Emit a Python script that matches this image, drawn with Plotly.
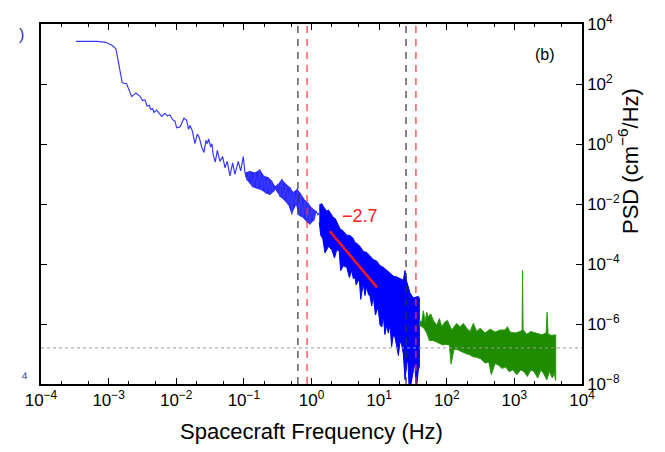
import numpy as np
import plotly.graph_objects as go

# ---- data (log10 of frequency in Hz, log10 of PSD) ----
blue_line_log_f = [-3.484, -3.173, -3.04, -2.951, -2.892, -2.862, -2.833, -2.799, -2.734, -2.660,
                   -2.596, -2.537, -2.497, -2.463, -2.429, -2.399, -2.379, -2.349, -2.330, -2.290,
                   -2.251, -2.216, -2.167, -2.133, -2.093, -2.053, -2.019, -1.994, -1.945, -1.886,
                   -1.846, -1.817, -1.797, -1.763, -1.723, -1.689, -1.660, -1.624, -1.590, -1.561,
                   -1.541, -1.521, -1.491, -1.472, -1.453, -1.423, -1.393, -1.354, -1.314, -1.280,
                   -1.246, -1.206, -1.166, -1.132, -1.083, -1.047, -1.009, -0.984, -0.950, -0.910,
                   -0.870, -0.836, -0.802, -0.762, -0.737, -0.703, -0.673, -0.639, -0.614, -0.589,
                   -0.565, -0.525, -0.491, -0.466, -0.441, -0.407, -0.377, -0.343, -0.318, -0.293,
                   -0.269, -0.229, -0.210, -0.180, -0.160, -0.130, -0.096, -0.071, -0.047, -0.022,
                   0.007, 0.037, 0.067, 0.096, 0.115]
blue_line_log_psd = [3.42, 3.42, 3.39, 3.29, 3.17, 2.84, 2.46, 2.04, 2.01, 1.58,
                     1.70, 1.59, 1.45, 1.47, 1.26, 1.29, 1.15, 1.18, 1.05, 1.13,
                     1.02, 0.92, 1.02, 0.94, 0.97, 0.81, 0.76, 0.54, 0.57, 0.86,
                     0.79, 0.49, 0.62, 0.44, 0.01, 0.33, 0.22, -0.10, -0.28, 0.12,
                     0.01, 0.17, -0.10, 0.01, -0.37, -0.60, -0.21, -0.58, -0.42, -0.79,
                     -0.58, -1.06, -0.63, -1.01, -0.58, -0.90, -0.42, -0.95, -1.22, -0.90,
                     -1.44, -0.95, -1.49, -0.85, -1.54, -1.06, -1.65, -1.11, -1.70, -1.22,
                     -1.60, -1.43, -1.33, -1.76, -1.17, -1.87, -1.33, -2.03, -1.44, -2.35,
                     -1.60, -2.03, -1.49, -2.40, -1.65, -2.45, -1.87, -2.61, -1.97, -2.68,
                     -2.13, -2.55, -2.23, -2.36, -2.30]

# dense part of the blue spectrum below ~1 Hz: upper / lower envelope
blue_mid_upper_log_f = [-0.984, -0.910, -0.836, -0.762, -0.703, -0.639, -0.589, -0.540, -0.491,
                        -0.441, -0.377, -0.318, -0.269, -0.210, -0.160, -0.096, -0.047, 0.007, 0.067]
blue_mid_upper_log_psd = [-0.95, -0.90, -0.95, -0.85, -1.06, -1.11, -1.22, -1.40, -1.33,
                          -1.17, -1.33, -1.44, -1.60, -1.49, -1.65, -1.87, -1.97, -2.13, -2.23]
blue_mid_lower_log_f = [0.067, 0.037, -0.022, -0.071, -0.130, -0.180, -0.229, -0.293, -0.343,
                        -0.407, -0.466, -0.540, -0.565, -0.614, -0.673, -0.737, -0.802, -0.870,
                        -0.950, -0.984]
blue_mid_lower_log_psd = [-2.23, -2.55, -2.68, -2.61, -2.45, -2.40, -2.03, -2.35, -2.03,
                          -1.87, -1.76, -1.50, -1.60, -1.70, -1.65, -1.54, -1.49, -1.44,
                          -1.22, -1.05]

blue_band_upper_log_f = [0.115, 0.151, 0.175, 0.200, 0.225, 0.250, 0.274, 0.300, 0.322, 0.350,
                         0.373, 0.400, 0.422, 0.470, 0.521, 0.570, 0.618, 0.640, 0.669, 0.720,
                         0.766, 0.820, 0.865, 0.910, 0.964, 1.010, 1.062, 1.110, 1.161, 1.210,
                         1.260, 1.310, 1.358, 1.383, 1.408, 1.457, 1.506, 1.580, 1.595]
blue_band_upper_log_psd = [-2.03, -1.99, -2.08, -2.15, -2.24, -2.20, -2.29, -2.40, -2.45, -2.48,
                           -2.61, -2.70, -2.83, -2.90, -3.04, -3.05, -3.15, -3.28, -3.31, -3.42,
                           -3.58, -3.62, -3.74, -3.85, -3.90, -4.05, -4.11, -4.20, -4.32, -4.40,
                           -4.43, -4.50, -4.54, -4.22, -4.59, -4.97, -5.13, -5.08, -5.15]
blue_band_lower_log_f = [1.595, 1.580, 1.546, 1.530, 1.516, 1.482, 1.447, 1.425, 1.408, 1.383,
                         1.358, 1.335, 1.309, 1.285, 1.260, 1.235, 1.210, 1.185, 1.161, 1.135,
                         1.112, 1.085, 1.062, 1.040, 1.013, 0.990, 0.973, 0.945, 0.914, 0.890,
                         0.865, 0.840, 0.817, 0.790, 0.766, 0.728, 0.710, 0.692, 0.660, 0.643,
                         0.620, 0.595, 0.560, 0.521, 0.470, 0.432, 0.420, 0.411, 0.373, 0.340,
                         0.299, 0.249, 0.200, 0.180, 0.166, 0.136, 0.115]
blue_band_lower_log_psd = [-7.43, -7.53, -8.30, -7.30, -7.43, -7.86, -8.30, -7.20, -7.32, -7.86,
                           -7.00, -6.70, -6.57, -7.05, -6.79, -6.45, -6.36, -6.75, -6.04, -6.30,
                           -6.04, -6.35, -5.72, -6.10, -6.04, -5.55, -5.50, -5.70, -5.08, -5.40,
                           -5.08, -5.00, -4.75, -5.05, -4.65, -5.18, -4.60, -4.54, -4.70, -4.43,
                           -4.50, -4.22, -4.45, -4.11, -4.06, -4.22, -3.90, -3.58, -3.52, -3.80,
                           -3.52, -3.42, -3.63, -3.30, -3.15, -3.04, -2.61]

green_upper_log_f = [1.595, 1.630, 1.654, 1.679, 1.704, 1.728, 1.763, 1.802, 1.852, 1.891,
                     1.926, 1.975, 2.009, 2.038, 2.074, 2.108, 2.148, 2.197, 2.246, 2.296,
                     2.345, 2.393, 2.444, 2.493, 2.567, 2.641, 2.714, 2.788, 2.862, 2.897,
                     2.936, 3.010, 3.084, 3.114, 3.121, 3.129, 3.183, 3.243, 3.321, 3.405,
                     3.469, 3.484, 3.499, 3.553, 3.612]
green_upper_log_psd = [-5.88, -5.93, -5.56, -5.93, -5.61, -5.77, -5.66, -5.88, -6.04, -5.82,
                       -6.09, -5.93, -5.88, -6.04, -6.20, -6.09, -5.98, -6.09, -5.98, -6.14,
                       -6.25, -5.98, -6.25, -6.14, -6.30, -6.17, -6.27, -6.20, -6.20, -6.09,
                       -6.27, -6.30, -6.25, -6.20, -4.22, -6.20, -6.34, -6.25, -6.30, -6.36,
                       -6.30, -5.61, -6.34, -6.38, -6.36]
green_lower_log_f = [3.612, 3.587, 3.562, 3.518, 3.479, 3.429, 3.391, 3.346, 3.291, 3.243,
                     3.192, 3.143, 3.095, 3.036, 2.976, 2.922, 2.873, 2.818, 2.763, 2.714,
                     2.660, 2.621, 2.567, 2.503, 2.444, 2.385, 2.334, 2.275, 2.222, 2.163,
                     2.108, 2.064, 2.038, 1.990, 1.941, 1.891, 1.842, 1.793, 1.743, 1.704,
                     1.664, 1.630, 1.595]
green_lower_log_psd = [-7.88, -7.64, -7.80, -7.59, -7.86, -7.64, -7.53, -7.80, -7.59, -7.53,
                       -7.75, -7.59, -7.53, -7.69, -7.53, -7.59, -7.43, -7.48, -7.37, -7.32,
                       -7.69, -7.27, -7.30, -7.16, -7.11, -7.09, -7.02, -6.98, -6.91, -6.86,
                       -6.84, -7.34, -6.70, -6.68, -6.70, -6.63, -6.59, -6.55, -6.55, -6.30,
                       -6.14, -6.09, -6.04]

fit_f = [1.87, 9.3]
fit_psd = [1.23e-3, 1.66e-5]
fit_label = "\u22122.7"
black_lines_f = [0.63, 25.0]
red_lines_f = [0.86, 35.0]
noise_level = 1.6e-7
x_tick_exp = list(range(-4, 5))
y_tick_exp = list(range(-8, 5, 2))


def p10(v):
    return list(10.0 ** np.array(v))


fig = go.Figure()

fig.add_trace(go.Scatter(x=p10(blue_mid_upper_log_f + blue_mid_lower_log_f),
                         y=p10(blue_mid_upper_log_psd + blue_mid_lower_log_psd),
                         mode="lines", fill="toself", fillcolor="rgba(0,0,255,0.85)",
                         line=dict(color="rgba(0,0,255,0)", width=0), showlegend=False))
fig.add_trace(go.Scatter(x=p10(blue_line_log_f), y=p10(blue_line_log_psd), mode="lines",
                         line=dict(color="#3a3aff", width=1.2), showlegend=False))
fig.add_trace(go.Scatter(x=p10(blue_band_upper_log_f + blue_band_lower_log_f),
                         y=p10(blue_band_upper_log_psd + blue_band_lower_log_psd),
                         mode="lines", fill="toself", fillcolor="#0000ff",
                         line=dict(color="#0000ff", width=1), showlegend=False))
fig.add_trace(go.Scatter(x=p10(green_upper_log_f + green_lower_log_f),
                         y=p10(green_upper_log_psd + green_lower_log_psd),
                         mode="lines", fill="toself", fillcolor="#1f8c00",
                         line=dict(color="#2e9a10", width=1), showlegend=False))

for f in black_lines_f:
    fig.add_shape(type="line", x0=f, x1=f, y0=0, y1=1, xref="x", yref="paper",
                  line=dict(color="#333333", width=1.2, dash="7px,6px"))
for f in red_lines_f:
    fig.add_shape(type="line", x0=f, x1=f, y0=0, y1=1, xref="x", yref="paper",
                  line=dict(color="#ff3030", width=1.2, dash="7px,6px"))
fig.add_shape(type="line", x0=0, x1=1, y0=noise_level, y1=noise_level, xref="paper", yref="y",
              line=dict(color="#999999", width=1, dash="dot"))

fig.add_trace(go.Scatter(x=fit_f, y=fit_psd, mode="lines",
                         line=dict(color="#ff1a1a", width=2.5), showlegend=False))

fig.add_annotation(x=np.log10(5.2), y=np.log10(4.1e-3), text=fit_label, showarrow=False,
                   font=dict(color="#ff2020", size=18, family="Liberation Sans"))
fig.add_annotation(x=np.log10(2845), y=np.log10(1e3), text="(b)", showarrow=False,
                   font=dict(color="black", size=16, family="Liberation Sans"))
fig.add_annotation(x=-0.045, y=1.0, xref="paper", yref="paper", text=")", showarrow=False,
                   font=dict(color="#1a3c8c", size=16, family="Liberation Sans"))
fig.add_annotation(x=-0.04, y=-0.01, xref="paper", yref="paper", text="\u2074", showarrow=False,
                   font=dict(color="#1a3c8c", size=16, family="Liberation Sans"))
# y-axis title (placed like the reference, above the axis centre)
fig.add_annotation(x=1.115, y=0.62, xref="paper", yref="paper",
                   text="PSD (cm<sup>\u22126</sup>/Hz)", textangle=-90, showarrow=False,
                   font=dict(color="black", size=22, family="Liberation Sans"))

fig.update_xaxes(type="log", range=[-4, 4],
                 tickvals=[10.0 ** e for e in x_tick_exp],
                 ticktext=["10<sup>%s</sup>" % (str(e).replace("-", "\u2212")) for e in x_tick_exp],
                 ticks="inside", ticklen=6, tickcolor="black",
                 showline=True, linecolor="black", linewidth=1.5, mirror="ticks",
                 showgrid=False, zeroline=False,
                 minor=dict(ticks="inside", ticklen=3, tickcolor="black", showgrid=False),
                 title=dict(text="Spacecraft Frequency (Hz)", font=dict(size=22), standoff=14),
                 tickfont=dict(size=17))
fig.update_yaxes(type="log", range=[-8, 4], side="right",
                 tickvals=[10.0 ** e for e in y_tick_exp],
                 ticktext=["10<sup>%s</sup>" % (str(e).replace("-", "\u2212")) for e in y_tick_exp],
                 ticks="inside", ticklen=6, tickcolor="black",
                 showline=True, linecolor="black", linewidth=1.5, mirror="ticks",
                 showgrid=False, zeroline=False,
                 tickfont=dict(size=17))

fig.update_layout(width=665, height=452, margin=dict(l=41, r=83, t=14, b=65),
                  paper_bgcolor="white", plot_bgcolor="white",
                  font=dict(family="Liberation Sans", color="black"))

fig.write_html("out.html")
